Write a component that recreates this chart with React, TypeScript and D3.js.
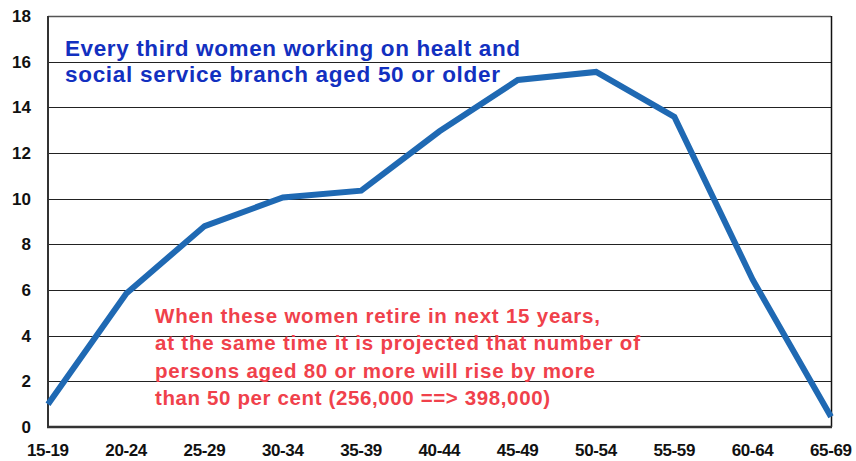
import React from "react";
import * as d3 from "d3";

const categories = ["15-19", "20-24", "25-29", "30-34", "35-39", "40-44", "45-49", "50-54", "55-59", "60-64", "65-69"];
const values = [1.0, 5.85, 8.8, 10.05, 10.35, 12.95, 15.2, 15.55, 13.58, 6.45, 0.45];
const yTicks = [0, 2, 4, 6, 8, 10, 12, 14, 16, 18];
const blueLines = ["Every third women working on healt and", "social service branch aged 50 or older"];
const redLines = [
  "When these women retire in next 15 years,",
  "at the same time it is projected that number of",
  "persons aged 80 or more will rise by more",
  "than 50 per cent (256,000 ==> 398,000)",
];

const W = 856, H = 461;
const L = 48, R = 831, T = 16, B = 427;

export default function App() {
  const x = d3.scalePoint<string>().domain(categories).range([L, R]);
  const y = d3.scaleLinear().domain([0, 18]).range([B, T]);
  const line = d3.line<number>().x((_, i) => x(categories[i]) as number).y((d) => y(d));
  const font = "'Liberation Sans', Arial, sans-serif";
  const blueW = [455, 435];
  const redW = [445, 485, 440, 395];
  return (
    <svg width={W} height={H} style={{ position: "absolute", left: 0, top: 0, background: "#fff" }} fontFamily={font}>
      {yTicks.filter((t) => t > 0 && t < 18).map((t) => (
        <line key={t} x1={L} x2={R} y1={Math.round(y(t)) + 0.5} y2={Math.round(y(t)) + 0.5} stroke="#222" strokeWidth={1.2} />
      ))}
      <line x1={L} x2={R} y1={T + 0.5} y2={T + 0.5} stroke="#555" strokeWidth={1.5} />
      <line x1={R + 0.5} x2={R + 0.5} y1={T} y2={B} stroke="#111" strokeWidth={1.5} />
      <line x1={L} x2={L} y1={T} y2={B + 1} stroke="#333" strokeWidth={2} />
      <line x1={L - 1} x2={R + 1} y1={B} y2={B} stroke="#333" strokeWidth={2.5} />
      {yTicks.map((t) => (
        <text key={t} x={31} y={y(t) + 6} textAnchor="end" fontSize={17} fontWeight="bold" fill="#111">{t}</text>
      ))}
      {categories.map((c) => (
        <text key={c} x={x(c)} y={456} textAnchor="middle" fontSize={17} fontWeight="bold" fill="#111" textLength={42} lengthAdjust="spacing">{c}</text>
      ))}
      <path d={line(values) || ""} fill="none" stroke="#1f69b3" strokeWidth={6} strokeLinejoin="miter" />
      {blueLines.map((s, i) => (
        <text key={s} x={65} y={56 + i * 25.5} fontSize={22.5} fontWeight="bold" fill="#1230c0" textLength={blueW[i]} lengthAdjust="spacing">{s}</text>
      ))}
      {redLines.map((s, i) => (
        <text key={s} x={155} y={323 + i * 27.3} fontSize={20.5} fontWeight="bold" fill="#f0414b" textLength={redW[i]} lengthAdjust="spacing">{s}</text>
      ))}
    </svg>
  );
}
